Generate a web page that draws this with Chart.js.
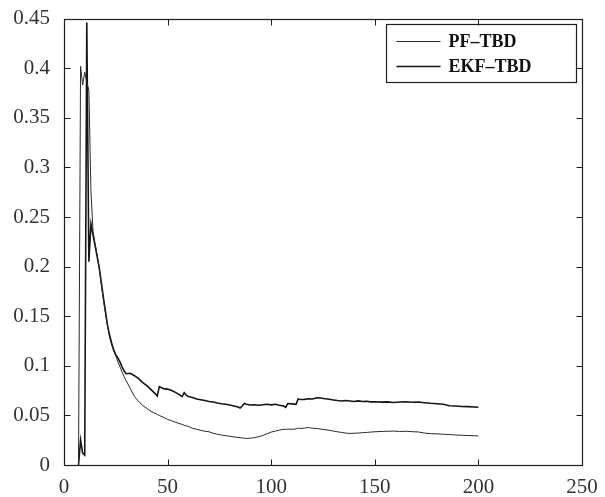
<!DOCTYPE html>
<html>
<head>
<meta charset="utf-8">
<script src="https://cdn.jsdelivr.net/npm/chart.js@4"></script>
<style>
  html, body { margin: 0; padding: 0; background: #fff; }
  canvas { display: block; }
</style>
</head>
<body>
<canvas id="errChart" width="605" height="497"></canvas>
<script>
// time steps (x) shared by both curves
const steps = [7, 8, 9, 10, 11, 12, 13, 14, 15, 16, 17, 18, 19, 20, 21, 22, 23, 24, 25, 26, 27, 28, 29, 30,
  32, 34, 36, 38, 40, 42, 44, 45, 46, 48, 50, 52, 54, 56, 57, 58, 59, 60,
  62, 64, 66, 68, 70, 72, 74, 76, 78, 80, 82, 84, 85, 86, 87, 88,
  90, 92, 94, 96, 98, 100, 102, 104, 106, 107, 108, 110, 112, 113, 114,
  116, 118, 120, 122, 124, 126, 128, 130, 132, 134, 136, 138, 140, 142, 144, 146, 148, 150,
  153, 156, 159, 162, 165, 168, 171, 174, 177, 180, 183, 186, 189, 192, 195, 198, 200];

const pfValues = [0, 0.402, 0.383, 0.396, 0.386, 0.378, 0.276, 0.236, 0.223, 0.212, 0.198, 0.182, 0.167, 0.153, 0.140, 0.129, 0.121, 0.115, 0.110, 0.104, 0.099, 0.094, 0.089, 0.085,
  0.077, 0.069, 0.064, 0.060, 0.057, 0.054, 0.052, 0.051, 0.050, 0.048, 0.046, 0.0445, 0.043, 0.0415, 0.041, 0.040, 0.0395, 0.039,
  0.037, 0.036, 0.035, 0.034, 0.0335, 0.032, 0.031, 0.0302, 0.0296, 0.029, 0.0283, 0.0278, 0.0276, 0.0272, 0.027, 0.0268,
  0.027, 0.0276, 0.0285, 0.0298, 0.0315, 0.0332, 0.0342, 0.0352, 0.036, 0.0358, 0.0362, 0.036, 0.0364, 0.0372, 0.0368,
  0.0372, 0.0378, 0.037, 0.0368, 0.0362, 0.0356, 0.035, 0.0342, 0.0335, 0.0328, 0.0322, 0.0318, 0.032, 0.0322, 0.0326, 0.0328, 0.0332, 0.0335,
  0.0338, 0.034, 0.0342, 0.0338, 0.034, 0.0336, 0.0333, 0.0322, 0.0316, 0.0314, 0.031, 0.0307, 0.0302, 0.030, 0.0297, 0.0295, 0.0293];

const ekfValues = [0, 0.025, 0.012, 0.010, 0.446, 0.205, 0.243, 0.232, 0.221, 0.210, 0.199, 0.184, 0.169, 0.155, 0.141, 0.131, 0.123, 0.116, 0.111, 0.108, 0.104, 0.099, 0.095, 0.092,
  0.0925, 0.090, 0.087, 0.083, 0.080, 0.076, 0.072, 0.0695, 0.079, 0.077, 0.0765, 0.075, 0.073, 0.0705, 0.069, 0.073, 0.0705, 0.069,
  0.068, 0.0665, 0.0658, 0.065, 0.064, 0.0635, 0.0625, 0.0618, 0.0612, 0.0605, 0.0595, 0.0585, 0.0575, 0.0595, 0.062, 0.0612,
  0.0605, 0.0608, 0.0602, 0.0608, 0.0612, 0.0606, 0.0612, 0.0603, 0.0595, 0.0582, 0.062, 0.0616, 0.0612, 0.0665, 0.066,
  0.0662, 0.0668, 0.0666, 0.0678, 0.0675, 0.0668, 0.0662, 0.0656, 0.065, 0.0645, 0.065, 0.0645, 0.064, 0.0646, 0.064, 0.0642, 0.0636, 0.0638,
  0.0634, 0.0636, 0.063, 0.0635, 0.0638, 0.0632, 0.0635, 0.0628, 0.0622, 0.0618, 0.0612, 0.0598, 0.0595, 0.059, 0.0588, 0.0584, 0.0582];

const seriesNames = ['PF\u2013TBD', 'EKF\u2013TBD'];
const xTickValues = [0, 50, 100, 150, 200, 250];
const yTickValues = [0, 0.05, 0.1, 0.15, 0.2, 0.25, 0.3, 0.35, 0.4, 0.45];

const FONT = "'Liberation Serif', 'Times New Roman', serif";

const toPoints = (vals) => steps.map((t, i) => ({ x: t, y: vals[i] }));

// white page, box with inward ticks on all sides, boxed legend
const framePlugin = {
  id: 'frame',
  beforeDraw(chart) {
    const { ctx, width, height } = chart;
    ctx.save();
    ctx.fillStyle = '#fff';
    ctx.fillRect(0, 0, width, height);
    ctx.restore();
  },
  afterDraw(chart) {
    const { ctx, chartArea: a, scales: { x, y } } = chart;
    const L = Math.round(a.left) + 0.5, R = Math.round(a.right) + 0.5;
    const T = Math.round(a.top) + 0.5, B = Math.round(a.bottom) + 0.5;
    const tick = 6;
    ctx.save();
    ctx.strokeStyle = '#1e1e1e';
    ctx.lineWidth = 1.2;
    ctx.strokeRect(L, T, R - L, B - T);
    ctx.lineWidth = 1;
    ctx.beginPath();
    xTickValues.forEach((v) => {
      const px = Math.round(x.getPixelForValue(v)) + 0.5;
      ctx.moveTo(px, B); ctx.lineTo(px, B - tick);
      ctx.moveTo(px, T); ctx.lineTo(px, T + tick);
    });
    yTickValues.forEach((v) => {
      const py = Math.round(y.getPixelForValue(v)) + 0.5;
      ctx.moveTo(L, py); ctx.lineTo(L + tick, py);
      ctx.moveTo(R, py); ctx.lineTo(R - tick, py);
    });
    ctx.stroke();

    // legend
    const boxW = 190, boxH = 58;
    const bx = Math.round(a.right) - 6 - boxW + 0.5;
    const by = Math.round(a.top) + 5 + 0.5;
    ctx.lineWidth = 1.2;
    ctx.strokeStyle = '#1e1e1e';
    ctx.strokeRect(bx, by, boxW, boxH);
    ctx.font = 'bold 18px ' + FONT;
    ctx.textBaseline = 'middle';
    ctx.fillStyle = '#111';
    chart.data.datasets.forEach((ds, i) => {
      const ly = by + 17 + i * 25;
      ctx.strokeStyle = ds.borderColor;
      ctx.lineWidth = ds.borderWidth;
      ctx.beginPath();
      ctx.moveTo(bx + 10, ly);
      ctx.lineTo(bx + 54, ly);
      ctx.stroke();
      ctx.fillText(ds.label, bx + 62, ly + 1);
    });
    ctx.restore();
  }
};

const ctx = document.getElementById('errChart').getContext('2d');
const errChart = new Chart(ctx, {
  type: 'line',
  data: {
    datasets: [
      {
        label: seriesNames[0],
        data: toPoints(pfValues),
        borderColor: '#2a2a2a',
        borderWidth: 1,
      },
      {
        label: seriesNames[1],
        data: toPoints(ekfValues),
        borderColor: '#151515',
        borderWidth: 1.6,
      },
    ],
  },
  options: {
    responsive: false,
    animation: false,
    devicePixelRatio: 1,
    elements: {
      point: { radius: 0 },
      line: { tension: 0 },
    },
    layout: { padding: { top: 15, right: 23, left: 0, bottom: 0 } },
    plugins: {
      legend: { display: false },
      tooltip: { enabled: false },
    },
    scales: {
      x: {
        type: 'linear',
        min: 0,
        max: 250,
        grid: { display: false },
        border: { display: false },
        afterBuildTicks: (axis) => { axis.ticks = xTickValues.map((v) => ({ value: v })); },
        afterFit: (scale) => { scale.height = 32; },
        ticks: {
          color: '#333',
          font: { family: FONT, size: 21 },
          padding: 2,
          maxRotation: 0,
          autoSkip: false,
          callback: (v) => String(v),
        },
      },
      y: {
        min: 0,
        max: 0.45,
        grid: { display: false },
        border: { display: false },
        afterBuildTicks: (axis) => { axis.ticks = yTickValues.map((v) => ({ value: v })); },
        afterFit: (scale) => { scale.width = 64; },
        ticks: {
          color: '#333',
          font: { family: FONT, size: 21 },
          padding: 6,
          autoSkip: false,
          callback: (v) => String(+v.toFixed(2)),
        },
      },
    },
  },
  plugins: [framePlugin],
});
</script>
</body>
</html>
